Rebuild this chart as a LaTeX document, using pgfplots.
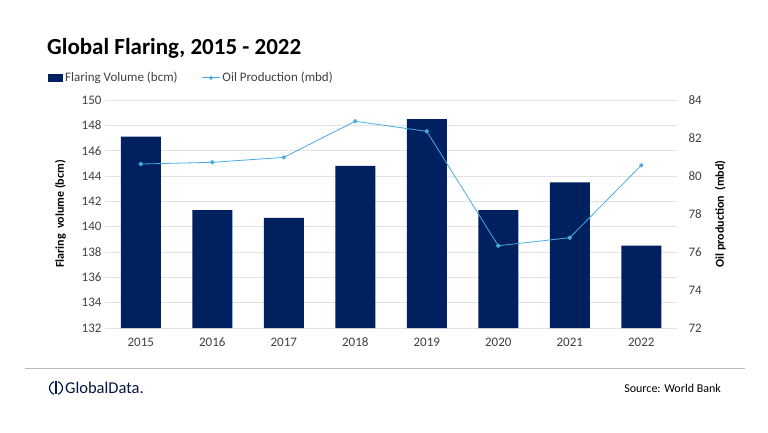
\documentclass[border=0pt]{standalone}
\usepackage{pgfplots}
\pgfplotsset{compat=1.18}
\usepackage{fontspec}
\setmainfont{Carlito}
\definecolor{navy}{HTML}{002060}
\definecolor{oil}{HTML}{4AADDF}
\definecolor{gridc}{HTML}{E3E3E3}
\definecolor{txt}{HTML}{404040}
\begin{document}
\begin{tikzpicture}[x=1pt,y=1pt]
\path[fill=white] (0,0) rectangle (768,432);
\node[anchor=base west,font=\bfseries\fontsize{23}{26}\selectfont,text=black,inner sep=0] at (47,377) {Global Flaring, 2015 - 2022};
\begin{axis}[
  at={(105pt,104pt)}, anchor=south west,
  scale only axis, width=572pt, height=228pt,
  xmin=-0.5, xmax=7.5, ymin=132, ymax=150,
  ytick={132,134,...,150},
  xtick={0,...,7},
  xticklabels={2015,2016,2017,2018,2019,2020,2021,2022},
  xticklabel style={text height=9pt, text depth=0pt, yshift=-6pt},
  axis line style={draw=none},
  major tick length=0pt,
  ymajorgrids, grid style={gridc, line width=0.8pt},
  tick label style={font=\fontsize{13}{15}\selectfont, text=txt},
  /pgf/number format/assume math mode=true,
  ylabel={\textbf{Flaring\ \ volume (bcm)}},
  ylabel style={font=\fontsize{12}{14}\selectfont, at={(axis description cs:-0.062,0.5)}},
  legend columns=2,
  legend style={draw=none, fill=none, font=\fontsize{13}{15}\selectfont, text=txt,
    at={(axis description cs:-0.105,1.097)}, anchor=west,
    /tikz/every even column/.append style={column sep=22pt}},
  legend cell align=left,
  legend image code/.code={\draw[#1, draw=none] (0pt,-4pt) rectangle (15pt,4pt);},
]
\addplot[ybar, bar width=40pt, fill=navy, draw=none, bar shift=0pt] coordinates {
  (0,147.1) (1,141.3) (2,140.7) (3,144.8) (4,148.5) (5,141.3) (6,143.5) (7,138.5)};
\addlegendentry{Flaring Volume (bcm)}
\addlegendimage{legend image code/.code={\draw[oil, line width=0.8pt] (0pt,0pt) -- (18pt,0pt); \fill[oil] (9pt,0pt) circle (1.8pt);}}
\addlegendentry{Oil Production (mbd)}
\end{axis}
\begin{axis}[
  at={(105pt,104pt)}, anchor=south west,
  scale only axis, width=572pt, height=228pt,
  xmin=-0.5, xmax=7.5, ymin=72, ymax=84,
  ytick={72,74,...,84},
  axis y line*=right, axis x line=none,
  axis line style={draw=none},
  major tick length=0pt,
  tick label style={font=\fontsize{13}{15}\selectfont, text=txt},
  yticklabel style={xshift=8pt},
  /pgf/number format/assume math mode=true,
  ylabel={\textbf{Oil production\ \ (mbd)}},
  ylabel style={font=\fontsize{12}{14}\selectfont, at={(axis description cs:1.06,0.5)}},
]
\addplot[oil, line width=0.8pt, mark=*, mark size=1.8pt, mark options={fill=oil, draw=oil}] coordinates {
  (0,80.63) (1,80.72) (2,80.98) (3,82.88) (4,82.35) (5,76.33) (6,76.75) (7,80.56)};
\end{axis}
\draw[gray!55, line width=0.8pt] (25,64) -- (745,64);
% logo
\begin{scope}[shift={(56,44)}]
\draw[navy!80!black, line width=1.2pt] (0,0) circle (6.5);
\fill[white] (-1.6,-8) rectangle (1.6,8);
\draw[navy!80!black, line width=1.2pt] (0,-6) -- (0,7.5);
\end{scope}
\node[anchor=west, font=\fontsize{16.5}{18}\selectfont, text=navy!70!black, inner sep=0] at (65,44) {GlobalData.};
\node[anchor=east, font=\fontsize{12}{14}\selectfont, text=black, inner sep=0] at (721,44) {Source: World Bank};
\end{tikzpicture}
\end{document}
